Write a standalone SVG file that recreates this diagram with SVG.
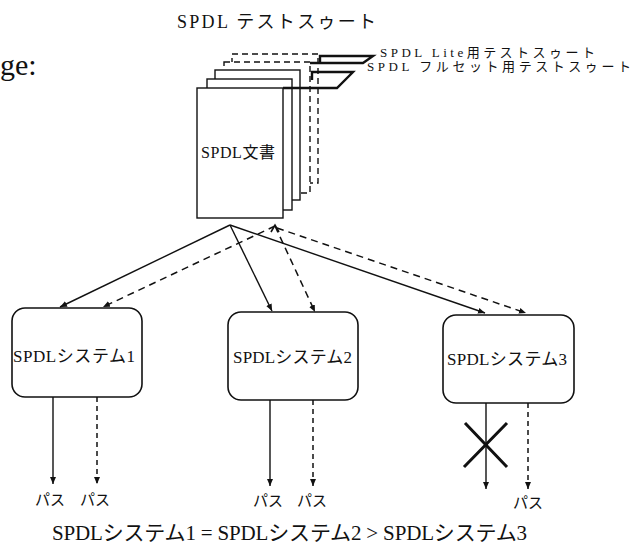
<svg xmlns="http://www.w3.org/2000/svg" width="634" height="551" viewBox="0 0 634 551">
<style>
text{font-family:"Liberation Serif","Noto Sans CJK JP",serif;fill:#111}
.page{fill:#fff;stroke:#111;stroke-width:1.4}
.dpage{fill:#fff;stroke:#111;stroke-width:1.4;stroke-dasharray:6 4}
.br{fill:none;stroke:#111;stroke-width:2.4;stroke-linejoin:miter}
.box{fill:#fff;stroke:#111;stroke-width:1.6}
.s{fill:none;stroke:#111;stroke-width:1.4}
.d{fill:none;stroke:#111;stroke-width:1.5;stroke-dasharray:7 5}
.dv{fill:none;stroke:#111;stroke-width:1.5;stroke-dasharray:5 4}
</style>
<defs>
<marker id="ah" markerUnits="userSpaceOnUse" markerWidth="8" markerHeight="8" refX="7" refY="3.5" orient="auto"><path d="M0,0.5 L7,3.5 L0,6.5 z" fill="#111"/></marker>
</defs>
<rect width="634" height="551" fill="#fff"/>
<text x="0" y="75" font-size="30">ge:</text>
<text x="177" y="28" font-size="18" textLength="199" lengthAdjust="spacing">SPDL テストスゥート</text>
<g id="docstack">
<rect class="dpage" x="232" y="54" width="86" height="129"/>
<rect class="dpage" x="224" y="62" width="86" height="131"/>
<rect class="page" x="215" y="70" width="85" height="130"/>
<rect class="page" x="207" y="79" width="85" height="131"/>
<rect class="page" x="197" y="88" width="86" height="130"/>
<text x="201" y="158" font-size="16" textLength="74" lengthAdjust="spacing">SPDL文書</text>
</g>
<g id="lite-bracket">
<path class="br" d="M310,63 L363,63 L373,56 L320,56 L320,63"/>
<text x="380" y="57" font-size="13" textLength="215" lengthAdjust="spacing">SPDL Lite用テストスゥート</text>
</g>
<g id="full-bracket">
<path class="br" d="M312,80 L312,72 L353,72 L337,88 L283,88"/>
<text x="367" y="71" font-size="13" textLength="264" lengthAdjust="spacing">SPDL フルセット用テストスゥート</text>
</g>
<g id="sys1">
<rect class="box" x="12" y="308" width="130" height="89" rx="13"/>
<text x="13" y="362" font-size="17" textLength="122" lengthAdjust="spacing">SPDLシステム1</text>
</g>
<g id="sys2">
<rect class="box" x="228" y="312" width="130" height="88" rx="13"/>
<text x="233" y="363" font-size="17" textLength="119" lengthAdjust="spacing">SPDLシステム2</text>
</g>
<g id="sys3">
<rect class="box" x="443" y="315" width="131" height="88" rx="13"/>
<text x="447" y="365" font-size="17" textLength="120" lengthAdjust="spacing">SPDLシステム3</text>
</g>
<g id="connectors">
<path class="s" d="M230,225 L60,307" marker-end="url(#ah)"/>
<path class="s" d="M230,225 L272,311" marker-end="url(#ah)"/>
<path class="s" d="M230,225 L485,313" marker-end="url(#ah)"/>
<path class="d" d="M275,226 L103,307" marker-end="url(#ah)"/>
<path class="d" d="M275,226 L315,312" marker-end="url(#ah)"/>
<path class="d" d="M277,228 L526,313" marker-end="url(#ah)"/>
<path d="M271,232 L275,225 L279,232" fill="none" stroke="#111" stroke-width="1.6"/>
<path class="s" d="M53,397 L53,484" marker-end="url(#ah)"/>
<path class="dv" d="M97,397 L97,484" marker-end="url(#ah)"/>
<path class="s" d="M270,400 L270,486" marker-end="url(#ah)"/>
<path class="dv" d="M313,400 L313,486" marker-end="url(#ah)"/>
<path class="s" d="M486,403 L486,489" marker-end="url(#ah)"/>
<path class="dv" d="M528,403 L528,489" marker-end="url(#ah)"/>
<path d="M465,423 L507,467 M507,423 L464,467" fill="none" stroke="#111" stroke-width="3"/>
</g>
<g id="results">
<text x="35" y="505" font-size="15">パス</text>
<text x="80" y="505" font-size="15">パス</text>
<text x="253" y="506" font-size="15">パス</text>
<text x="297" y="506" font-size="15">パス</text>
<text x="513" y="508" font-size="15">パス</text>
</g>
<text x="52" y="540" font-size="21" textLength="475" lengthAdjust="spacing">SPDLシステム1 = SPDLシステム2 &gt; SPDLシステム3</text>
</svg>
